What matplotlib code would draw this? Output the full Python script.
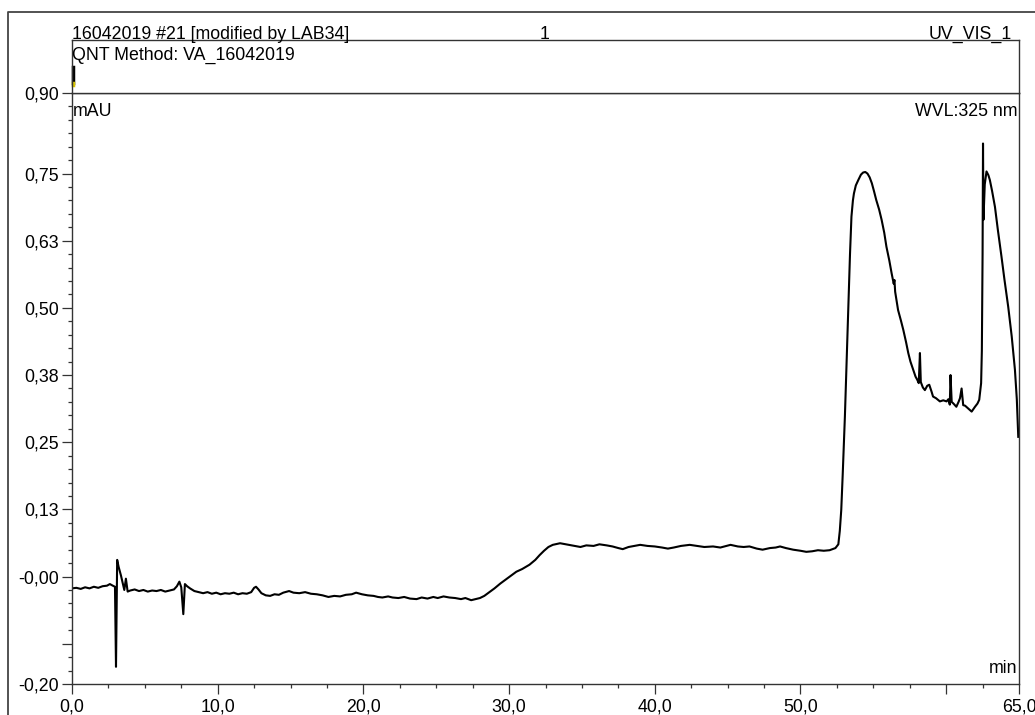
import matplotlib
matplotlib.use("Agg")
import matplotlib.pyplot as plt
from matplotlib.lines import Line2D
from matplotlib.ticker import FixedLocator, MultipleLocator

plt.rcParams['font.family'] = ['Liberation Sans', 'DejaVu Sans']

# Chromatogram trace (retention time in min, signal in mAU)
time_min = [
    0.0, 0.3, 0.6, 0.9, 1.2, 1.5, 1.8, 2.1, 2.4, 2.6, 2.8, 2.95,
    3.02, 3.10, 3.20, 3.36, 3.50, 3.59, 3.70, 3.82,
    4.0, 4.3, 4.6, 4.9, 5.2, 5.5, 5.8, 6.1, 6.4, 6.7, 7.0, 7.2,
    7.37, 7.5, 7.64, 7.75, 7.9, 8.1, 8.4, 8.7, 9.0, 9.3, 9.6, 9.9,
    10.2, 10.5, 10.8, 11.1, 11.4, 11.7, 12.0, 12.3, 12.5, 12.63, 12.8,
    13.0, 13.3, 13.6, 13.9, 14.2, 14.5, 14.9, 15.2, 15.6, 16.0, 16.4,
    16.8, 17.2, 17.6, 18.0, 18.4, 18.8, 19.2, 19.5, 19.9, 20.3, 20.7,
    21.0, 21.3, 21.7, 22.0, 22.4, 22.8, 23.2, 23.65, 24.0, 24.4, 24.8,
    25.1, 25.5, 25.9, 26.3, 26.7, 27.0, 27.4, 27.7, 28.0, 28.3, 28.7,
    29.0, 29.4, 29.8, 30.1, 30.5, 30.9, 31.4, 31.8, 32.1, 32.4, 32.7,
    33.0, 33.5, 33.9, 34.3, 34.9, 35.3, 35.8, 36.2, 36.7, 37.1, 37.5,
    37.8, 38.2, 38.6, 39.0, 39.5, 40.0, 40.5, 40.9, 41.3, 41.8, 42.4,
    42.9, 43.4, 44.0, 44.5, 45.2, 45.7, 46.1, 46.5, 47.0, 47.4, 47.9,
    48.3, 48.6, 49.0, 49.5, 50.0, 50.4, 50.8, 51.2, 51.6, 52.0, 52.4,
    52.6, 52.7, 52.8, 52.9, 53.05, 53.2, 53.3, 53.4, 53.5, 53.6, 53.67,
    53.8, 53.97, 54.15, 54.3, 54.45, 54.6, 54.75, 54.9, 55.05, 55.2,
    55.4, 55.57, 55.75, 55.9, 56.1, 56.26, 56.4, 56.45, 56.5, 56.7,
    56.9, 57.06, 57.25, 57.4, 57.55, 57.74, 57.9, 58.02, 58.12, 58.2,
    58.26, 58.4, 58.54, 58.7, 58.84, 59.0, 59.1, 59.3, 59.57, 59.8,
    60.03, 60.15, 60.25, 60.3, 60.38, 60.5, 60.7, 60.85, 60.95, 61.06,
    61.17, 61.3, 61.5, 61.75, 61.98, 62.15, 62.27, 62.4, 62.45, 62.5,
    62.53, 62.56, 62.65, 62.77, 62.9, 63.0, 63.15, 63.35, 63.55, 63.8,
    64.0, 64.26, 64.5, 64.72, 64.85, 64.95,
]
signal_mau = [
    -0.022, -0.021, -0.023, -0.020, -0.022, -0.019, -0.021, -0.018, -0.017, -0.014, -0.017, -0.019,
    -0.168, 0.031, 0.018, 0.002, -0.014, -0.025, -0.004, -0.028,
    -0.026, -0.024, -0.027, -0.025, -0.028, -0.026, -0.027, -0.025, -0.028, -0.026, -0.024, -0.018,
    -0.0095, -0.020, -0.070, -0.014, -0.018, -0.022, -0.027, -0.029, -0.031, -0.029, -0.032, -0.030,
    -0.033, -0.031, -0.032, -0.030, -0.033, -0.031, -0.032, -0.029, -0.021, -0.019, -0.024,
    -0.031, -0.035, -0.036, -0.033, -0.034, -0.030, -0.027, -0.030, -0.031, -0.029, -0.032,
    -0.033, -0.035, -0.038, -0.036, -0.037, -0.034, -0.033, -0.030, -0.033, -0.035, -0.036,
    -0.038, -0.039, -0.037, -0.039, -0.040, -0.038, -0.041, -0.042, -0.039, -0.041, -0.038,
    -0.040, -0.037, -0.039, -0.040, -0.042, -0.040, -0.044, -0.042, -0.040, -0.036, -0.028,
    -0.022, -0.013, -0.005, 0.001, 0.009, 0.014, 0.022, 0.031, 0.040, 0.048, 0.055,
    0.059, 0.062, 0.060, 0.058, 0.055, 0.058, 0.057, 0.060, 0.058, 0.056, 0.053,
    0.051, 0.055, 0.057, 0.059, 0.057, 0.056, 0.054, 0.052, 0.054, 0.057, 0.059,
    0.057, 0.055, 0.056, 0.054, 0.059, 0.056, 0.055, 0.056, 0.052, 0.050, 0.053,
    0.054, 0.056, 0.053, 0.050, 0.048, 0.046, 0.047, 0.049, 0.048, 0.049, 0.053,
    0.060, 0.085, 0.124, 0.190, 0.298, 0.430, 0.515, 0.600, 0.670, 0.700, 0.713,
    0.728, 0.738, 0.748, 0.752, 0.753, 0.750, 0.743, 0.732, 0.717, 0.701,
    0.683, 0.664, 0.640, 0.614, 0.588, 0.564, 0.545, 0.552, 0.530, 0.496,
    0.476, 0.459, 0.436, 0.416, 0.400, 0.385, 0.372, 0.366, 0.360, 0.416,
    0.362, 0.352, 0.347, 0.355, 0.357, 0.344, 0.335, 0.332, 0.326, 0.328,
    0.326, 0.330, 0.320, 0.375, 0.325, 0.322, 0.316, 0.325, 0.332, 0.350,
    0.319, 0.318, 0.313, 0.307, 0.316, 0.322, 0.329, 0.360, 0.420, 0.600,
    0.806, 0.664, 0.730, 0.754, 0.747, 0.738, 0.718, 0.688, 0.645, 0.595,
    0.553, 0.502, 0.447, 0.385, 0.330, 0.260,
]

# Axis ticks
y_major = [-0.20, -0.125, 0.0, 0.125, 0.25, 0.375, 0.50, 0.625, 0.75, 0.90]
y_labels = ['-0,20', '', '-0,00', '0,13', '0,25', '0,38', '0,50', '0,63', '0,75', '0,90']
x_major = [0, 10, 20, 30, 40, 50, 60, 65]
x_labels = ['0,0', '10,0', '20,0', '30,0', '40,0', '50,0', '', '65,0']

header_left = '16042019 #21 [modified by LAB34]'
header_mid = '1'
header_right = 'UV_VIS_1'
method_text = 'QNT Method: VA_16042019'

W, H = 1035, 715
fig = plt.figure(figsize=(W / 100, H / 100), dpi=100)
fig.patch.set_facecolor('white')

def fx(px):
    return px / W

def fy(py):
    return 1 - py / H

FS = 12.8
spine_col = '#333333'

# Main chromatogram axes
ax = fig.add_axes([fx(72), fy(684), fx(1019) - fx(72), fy(93) - fy(684)])
ax.plot(time_min, signal_mau, color='black', lw=1.5, solid_joinstyle='round')
ax.set_xlim(0, 65)
ax.set_ylim(-0.20, 0.90)

ax.yaxis.set_major_locator(FixedLocator(y_major))
ax.set_yticklabels(y_labels)
ax.yaxis.set_minor_locator(MultipleLocator(0.025))
ax.xaxis.set_major_locator(FixedLocator(x_major))
ax.set_xticklabels(x_labels)
ax.xaxis.set_minor_locator(MultipleLocator(2.5))

ax.tick_params(axis='both', which='major', direction='out', length=7.2, width=0.9,
               color=spine_col, labelsize=FS, pad=2)
ax.tick_params(axis='both', which='minor', direction='out', length=3.2, width=0.9,
               color=spine_col)
ax.tick_params(axis='x', which='major', pad=3)
for s in ax.spines.values():
    s.set_color(spine_col)
    s.set_linewidth(1.0)

ax.text(0.001, 1 - 10 / 591, 'mAU', transform=ax.transAxes, ha='left', va='top', fontsize=FS)
ax.text(0.998, 1 - 10 / 591, 'WVL:325 nm', transform=ax.transAxes, ha='right', va='top', fontsize=FS)
ax.text(0.998, 0.012, 'min', transform=ax.transAxes, ha='right', va='bottom', fontsize=FS)

# Header box above the plot
hx = fig.add_axes([fx(72), fy(93), fx(1019) - fx(72), fy(40) - fy(93)])
hx.set_xticks([])
hx.set_yticks([])
hx.set_xlim(0, 1)
hx.set_ylim(0, 1)
for s in hx.spines.values():
    s.set_color(spine_col)
    s.set_linewidth(1.0)
hx.plot([0.0015, 0.0015], [0.19, 0.49], color='black', lw=2.5, clip_on=False)
hx.plot([0.0015, 0.0015], [0.15, 0.19], color='#d8c400', lw=2.5, clip_on=False)
hx.text(0.0, 0.70, method_text, ha='left', va='center', fontsize=FS)

fig.text(fx(72), fy(39), header_left, ha='left', va='baseline', fontsize=FS)
fig.text(fx(545), fy(39), header_mid, ha='center', va='baseline', fontsize=FS)
fig.text(fx(1012), fy(39), header_right, ha='right', va='baseline', fontsize=FS)

# Outer page frame
fig.add_artist(Line2D([fx(8), fx(8), 1.0], [0.0, fy(12), fy(12)],
                      transform=fig.transFigure, color='#444444', lw=1.3))

fig.savefig('out.png', dpi=100, facecolor='white')
